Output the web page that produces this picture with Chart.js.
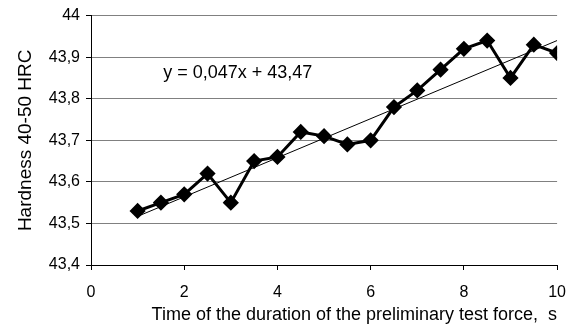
<!DOCTYPE html>
<html>
<head>
<meta charset="utf-8">
<script src="https://cdn.jsdelivr.net/npm/chart.js@4"></script>
<style>
  html, body { margin: 0; padding: 0; background: #fff; }
  #wrap { width: 579px; height: 329px; }
</style>
</head>
<body>
<div id="wrap"><canvas id="chart" width="579" height="329"></canvas></div>
<script>
  // measured values
  const times = [1, 1.5, 2, 2.5, 3, 3.5, 4, 4.5, 5, 5.5, 6, 6.5, 7, 7.5, 8, 8.5, 9, 9.5, 10];
  const hardness = [43.53, 43.55, 43.57, 43.62, 43.55, 43.65, 43.66, 43.72, 43.71, 43.69, 43.70,
                    43.78, 43.82, 43.87, 43.92, 43.94, 43.85, 43.93, 43.91];
  // linear trend end points
  const trendX = [1, 10];
  const trendY = [43.517, 43.94];
  const trendLabel = 'y = 0,047x + 43,47';
  const xTicks = [0, 2, 4, 6, 8, 10];

  const font = 'Liberation Sans, Arial, sans-serif';

  const labelPlugin = {
      id: 'trendLabel',
      afterDatasetsDraw(chart) {
          const {ctx, scales} = chart;
          ctx.save();
          ctx.font = '18px ' + font;
          ctx.fillStyle = '#000';
          ctx.textBaseline = 'middle';
          ctx.fillText(trendLabel, scales.x.getPixelForValue(1.55), scales.y.getPixelForValue(43.862));
          ctx.restore();
      }
  };

  new Chart(document.getElementById('chart'), {
      type: 'scatter',
      data: {
          datasets: [
              {
                  data: times.map((t, i) => ({x: t, y: hardness[i]})),
                  showLine: true,
                  borderColor: '#000',
                  backgroundColor: '#000',
                  borderWidth: 3,
                  pointStyle: 'rectRot',
                  pointRadius: 6,
                  pointHoverRadius: 6,
                  order: 1
              },
              {
                  data: trendX.map((t, i) => ({x: t, y: trendY[i]})),
                  showLine: true,
                  borderColor: '#000',
                  borderWidth: 1,
                  pointRadius: 0,
                  order: 0
              }
          ]
      },
      options: {
          responsive: false,
          animation: false,
          layout: {padding: {left: 0, right: 21, top: 8, bottom: 0}},
          plugins: {legend: {display: false}, tooltip: {enabled: false}},
          scales: {
              x: {
                  type: 'linear',
                  min: 0,
                  max: 10,
                  afterBuildTicks: (scale) => { scale.ticks = xTicks.map(v => ({value: v})); },
                  grid: {drawOnChartArea: false, color: '#000', tickLength: 5},
                  border: {color: '#000'},
                  ticks: {color: '#000', font: {family: font, size: 16}, padding: 13, maxRotation: 0},
                  title: {display: true, align: 'end', text: 'Time of the duration of the preliminary test force,  s',
                          color: '#000', font: {family: font, size: 18}, padding: {top: 0, bottom: 3}},
                  afterFit: (scale) => { scale.height = 64; }
              },
              y: {
                  min: 43.4,
                  max: 44,
                  ticks: {
                      stepSize: 0.1,
                      color: '#000',
                      font: {family: font, size: 16},
                      padding: 6,
                      callback: (v) => (Math.round(v * 10) / 10).toString().replace('.', ',')
                  },
                  grid: {color: '#808080', tickColor: '#000', tickLength: 5},
                  border: {color: '#000'},
                  title: {display: true, text: 'Hardness 40-50 HRC', color: '#000',
                          font: {family: font, size: 19}, padding: {top: 14, bottom: 6}},
                  afterFit: (scale) => { scale.width = 91; }
              }
          }
      },
      plugins: [labelPlugin]
  });
</script>
</body>
</html>
